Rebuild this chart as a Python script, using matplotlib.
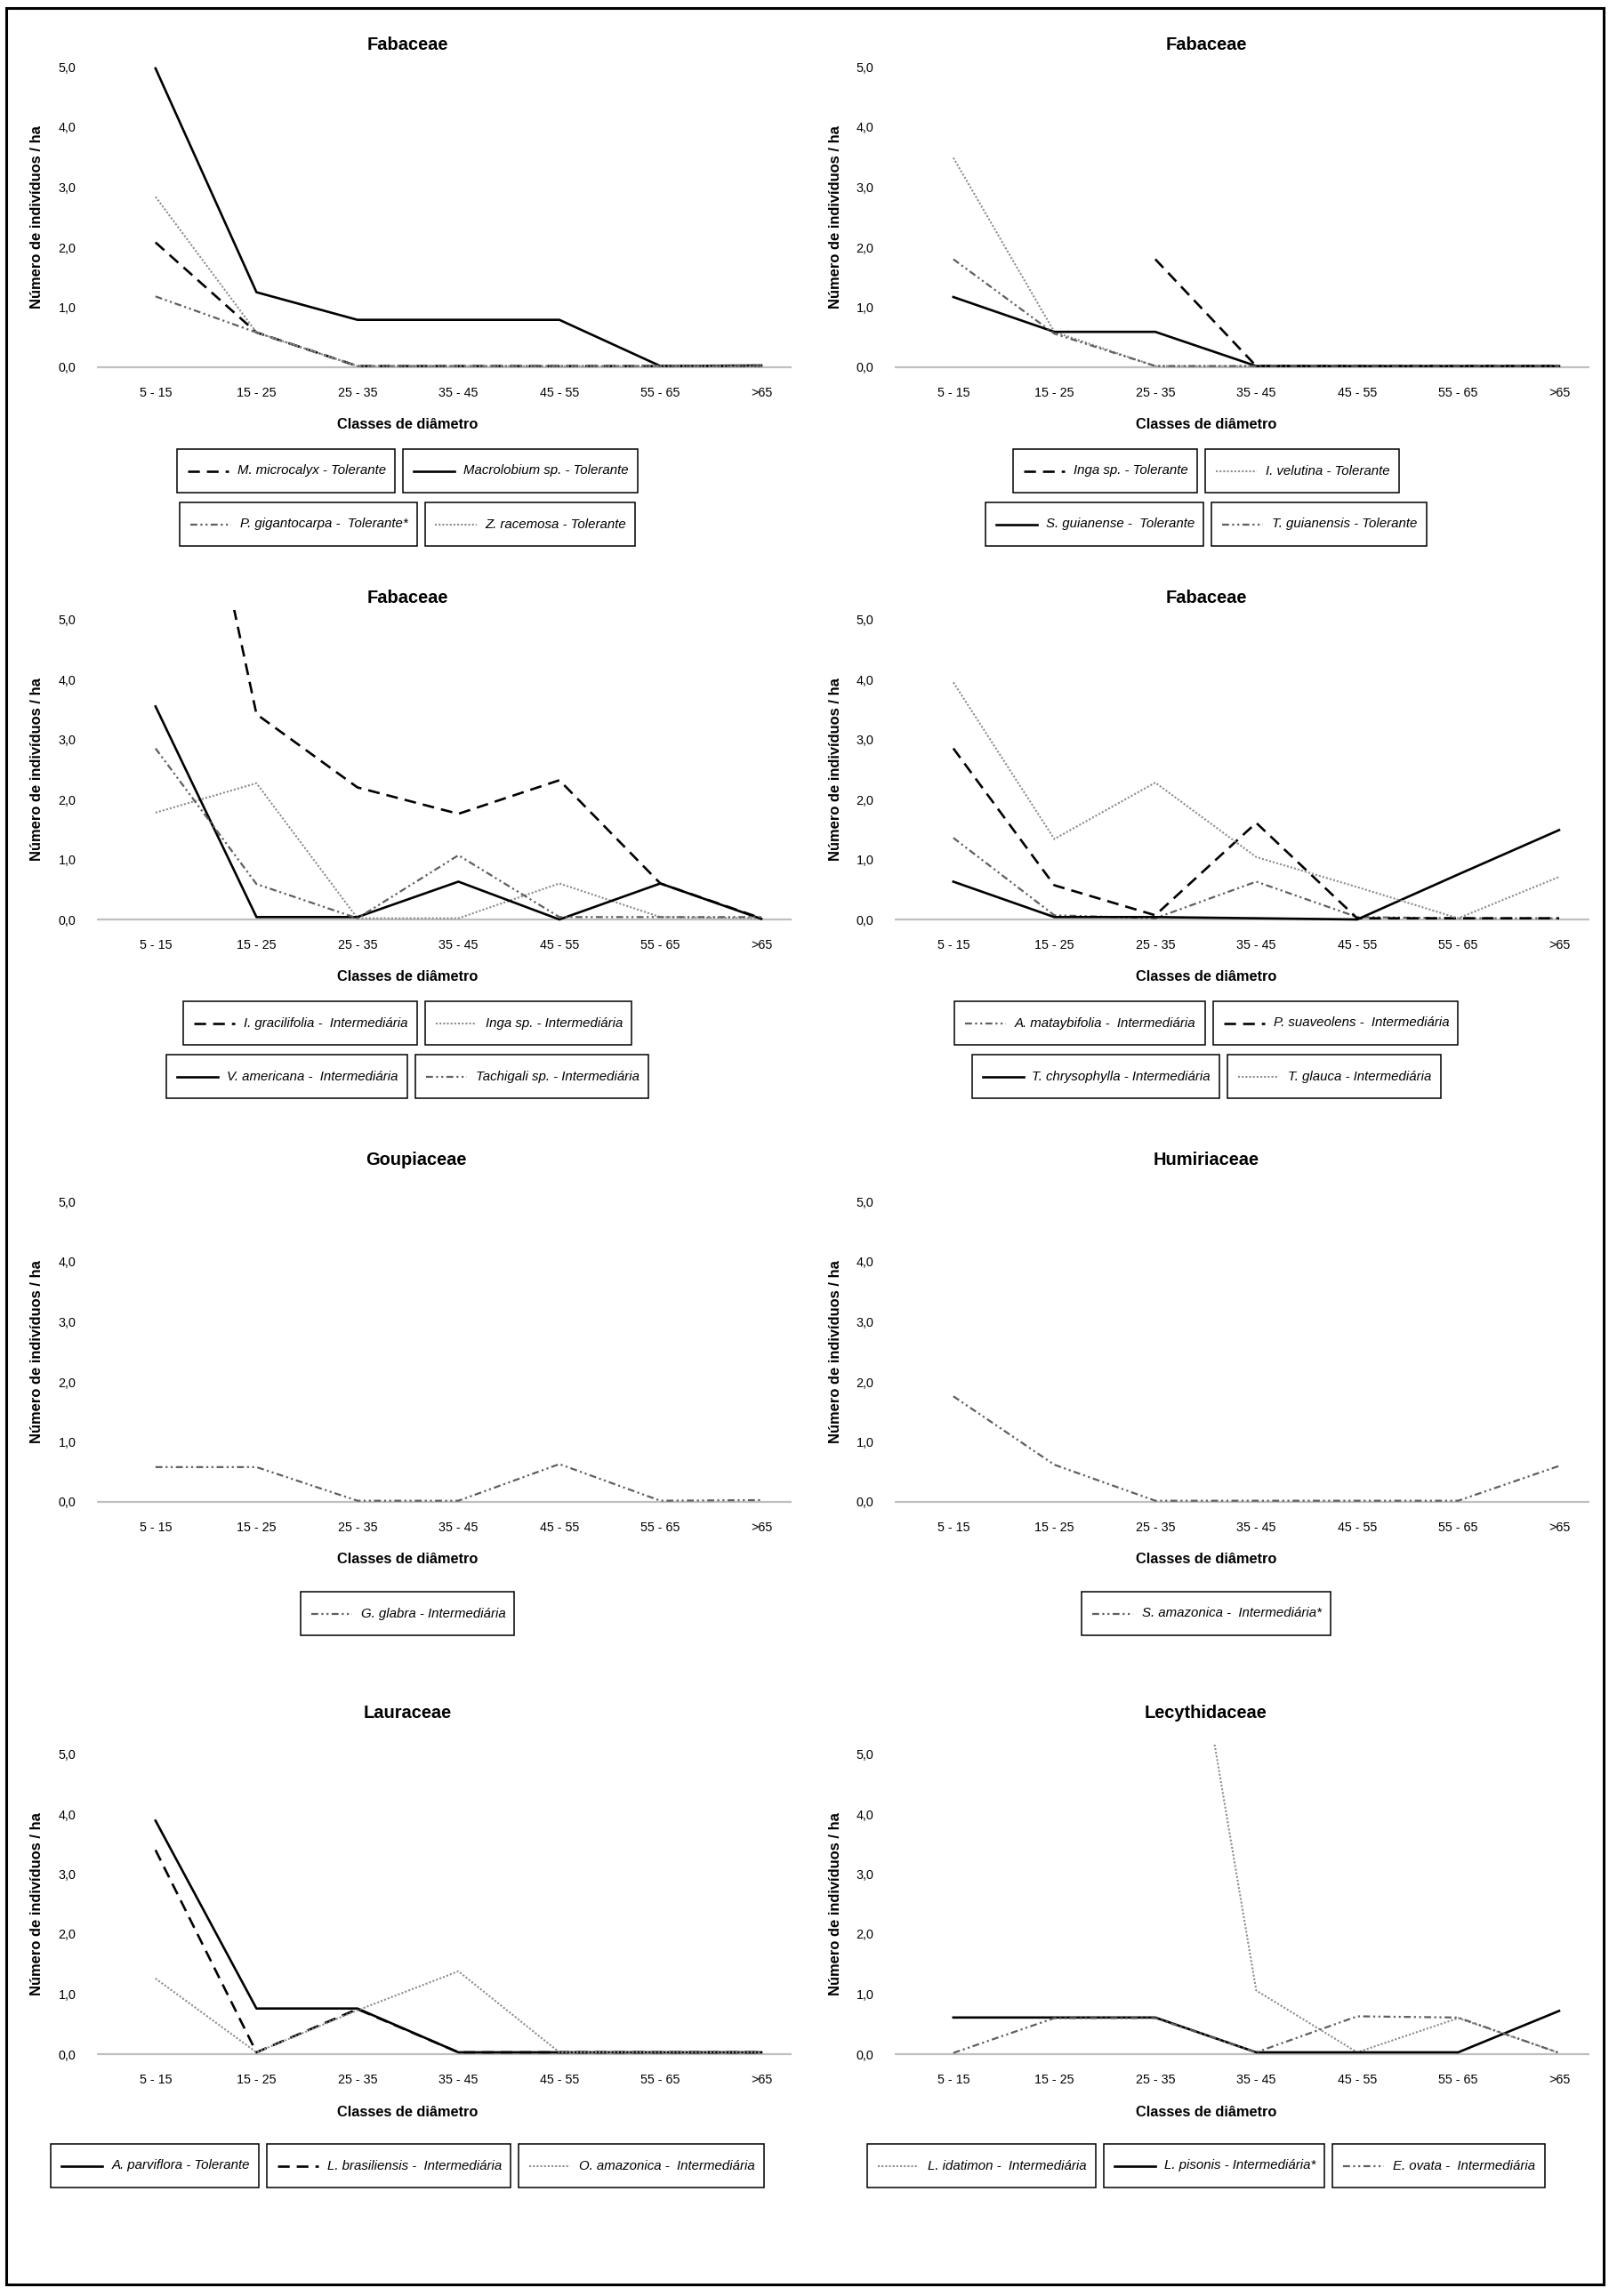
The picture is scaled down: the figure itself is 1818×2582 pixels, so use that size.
import numpy as np
import matplotlib
matplotlib.use("Agg")
import matplotlib.pyplot as plt
from matplotlib.patches import Rectangle
from matplotlib.lines import Line2D

plt.rcParams['font.family'] = ['Liberation Sans', 'DejaVu Sans']

nan = np.nan
CLASSES = ["5 - 15", "15 - 25", "25 - 35", "35 - 45", "45 - 55", "55 - 65", ">65"]
YTICKS = [0, 1, 2, 3, 4, 5]

# Fabaceae (tolerantes I)
m_microcalyx = [2.08, 0.58, 0.02, 0.02, 0.02, 0.02, 0.02]
macrolobium_sp = [4.98, 1.25, 0.79, 0.79, 0.79, 0.02, 0.03]
p_gigantocarpa = [1.18, 0.58, 0.02, 0.02, 0.02, 0.02, 0.02]
z_racemosa = [2.84, 0.58, 0.02, 0.02, 0.02, 0.02, 0.02]
# Fabaceae (tolerantes II)
inga_sp_tol = [nan, nan, 1.80, 0.02, 0.02, 0.02, 0.02]
i_velutina = [3.49, 0.59, 0.02, 0.02, 0.02, 0.02, 0.02]
s_guianense = [1.17, 0.59, 0.59, 0.02, 0.02, 0.02, 0.02]
t_guianensis = [1.80, 0.56, 0.02, 0.02, 0.02, 0.02, 0.02]
# Fabaceae (intermediarias I)
i_gracilifolia = [11.3, 3.42, 2.20, 1.76, 2.32, 0.60, 0.02]
inga_sp_int = [1.78, 2.27, 0.02, 0.02, 0.60, 0.04, 0.02]
v_americana = [3.55, 0.04, 0.04, 0.63, 0.00, 0.60, 0.01]
tachigali_sp = [2.85, 0.59, 0.02, 1.07, 0.04, 0.04, 0.04]
# Fabaceae (intermediarias II)
a_mataybifolia = [1.36, 0.07, 0.02, 0.63, 0.04, 0.02, 0.02]
p_suaveolens = [2.85, 0.57, 0.07, 1.61, 0.02, 0.02, 0.02]
t_chrysophylla = [0.63, 0.04, 0.04, 0.02, 0.00, 0.75, 1.49]
t_glauca = [3.95, 1.34, 2.28, 1.04, 0.54, 0.02, 0.71]
# Goupiaceae / Humiriaceae
g_glabra = [0.58, 0.58, 0.02, 0.02, 0.63, 0.02, 0.03]
s_amazonica = [1.76, 0.62, 0.02, 0.02, 0.02, 0.02, 0.60]
# Lauraceae
a_parviflora = [3.89, 0.76, 0.76, 0.03, 0.03, 0.03, 0.03]
l_brasiliensis = [3.40, 0.03, 0.75, 0.03, 0.03, 0.03, 0.03]
o_amazonica = [1.26, 0.03, 0.73, 1.38, 0.03, 0.03, 0.03]
# Lecythidaceae
l_idatimon = [nan, nan, 11.0, 1.06, 0.03, 0.60, 0.02]
l_pisonis = [0.61, 0.61, 0.61, 0.03, 0.03, 0.03, 0.72]
e_ovata = [0.02, 0.60, 0.60, 0.03, 0.63, 0.61, 0.02]

STYLES = {
    "solid": dict(color="black", lw=1.9, ls="-"),
    "dashed": dict(color="black", lw=1.9, ls=(0, (5, 3))),
    "dotted": dict(color="#8c8c8c", lw=1.5, ls=(0, (1, 1))),
    "ddot": dict(color="#5f5f5f", lw=1.6, ls=(0, (3.5, 1.6, 1, 1.6, 1, 1.6))),
}

# (title, title x, series, legend rows as index lists)
PANELS = [
    ("Fabaceae", 458, [("M. microcalyx - Tolerante", m_microcalyx, "dashed"),
                       ("Macrolobium sp. - Tolerante", macrolobium_sp, "solid"),
                       ("P. gigantocarpa -  Tolerante*", p_gigantocarpa, "ddot"),
                       ("Z. racemosa - Tolerante", z_racemosa, "dotted")], [[0, 1], [2, 3]]),
    ("Fabaceae", 1356, [("Inga sp. - Tolerante", inga_sp_tol, "dashed"),
                        ("I. velutina - Tolerante", i_velutina, "dotted"),
                        ("S. guianense -  Tolerante", s_guianense, "solid"),
                        ("T. guianensis - Tolerante", t_guianensis, "ddot")], [[0, 1], [2, 3]]),
    ("Fabaceae", 458, [("I. gracilifolia -  Intermediária", i_gracilifolia, "dashed"),
                       ("Inga sp. - Intermediária", inga_sp_int, "dotted"),
                       ("V. americana -  Intermediária", v_americana, "solid"),
                       ("Tachigali sp. - Intermediária", tachigali_sp, "ddot")], [[0, 1], [2, 3]]),
    ("Fabaceae", 1356, [("A. mataybifolia -  Intermediária", a_mataybifolia, "ddot"),
                        ("P. suaveolens -  Intermediária", p_suaveolens, "dashed"),
                        ("T. chrysophylla - Intermediária", t_chrysophylla, "solid"),
                        ("T. glauca - Intermediária", t_glauca, "dotted")], [[0, 1], [2, 3]]),
    ("Goupiaceae", 468, [("G. glabra - Intermediária", g_glabra, "ddot")], [[0]]),
    ("Humiriaceae", 1356, [("S. amazonica -  Intermediária*", s_amazonica, "ddot")], [[0]]),
    ("Lauraceae", 458, [("A. parviflora - Tolerante", a_parviflora, "solid"),
                        ("L. brasiliensis -  Intermediária", l_brasiliensis, "dashed"),
                        ("O. amazonica -  Intermediária", o_amazonica, "dotted")], [[0, 1, 2]]),
    ("Lecythidaceae", 1356, [("L. idatimon -  Intermediária", l_idatimon, "dotted"),
                             ("L. pisonis - Intermediária*", l_pisonis, "solid"),
                             ("E. ovata -  Intermediária", e_ovata, "ddot")], [[0, 1, 2]]),
]

W, H = 1818, 2582
COLS = [dict(x0=109, x1=890, cx=458, ylab=42), dict(x0=1006, x1=1787, cx=1356, ylab=939)]
ROWS = [dict(zero=413, title=51), dict(zero=1034, title=672),
        dict(zero=1689, title=1305), dict(zero=2310, title=1926)]
UNIT = 67.5
YMIN, YMAX = -0.05, 5.15


def fx(px):
    return px / W


def fy(py):
    return 1 - py / H


fig = plt.figure(figsize=(W / 100, H / 100), dpi=100)
renderer = fig.canvas.get_renderer()


def legend_row(entries, top, cx, h=49):
    texts, widths = [], []
    for label, style in entries:
        t = fig.text(0, 0, label, fontsize=10.8, style="italic", va="center", ha="left")
        texts.append(t)
        widths.append(12 + 46 + 10 + t.get_window_extent(renderer).width + 10)
    gap = 9
    x = cx - (sum(widths) + gap * (len(widths) - 1)) / 2
    yc = top + h / 2
    for (label, style), t, bw in zip(entries, texts, widths):
        fig.add_artist(Rectangle((fx(x), fy(top + h)), bw / W, h / H, transform=fig.transFigure,
                                 fill=False, edgecolor="black", lw=1.1))
        st = STYLES[style]
        fig.add_artist(Line2D([fx(x + 12), fx(x + 58)], [fy(yc), fy(yc)], transform=fig.transFigure,
                              color=st["color"], lw=st["lw"], linestyle=st["ls"]))
        t.set_position((fx(x + 68), fy(yc)))
        x += bw + gap


for i, (title, tx, series, rows) in enumerate(PANELS):
    col, row = COLS[i % 2], ROWS[i // 2]
    bottom_px = row["zero"] - YMIN * UNIT
    top_px = row["zero"] - YMAX * UNIT
    ax = fig.add_axes([fx(col["x0"]), fy(bottom_px), (col["x1"] - col["x0"]) / W, (bottom_px - top_px) / H])
    ax.axhline(0, color="#bfbfbf", lw=1.6, zorder=1)
    x = np.arange(len(CLASSES))
    for label, vals, style in series:
        st = STYLES[style]
        ax.plot(x, vals, color=st["color"], lw=st["lw"], linestyle=st["ls"], zorder=2)
    ax.set_xlim(-0.58, 6.30)
    ax.set_ylim(YMIN, YMAX)
    ax.set_yticks(YTICKS)
    ax.set_yticklabels([f"{v:.1f}".replace(".", ",") for v in YTICKS], fontsize=10.3)
    ax.set_xticks(x)
    ax.set_xticklabels(CLASSES, fontsize=10.3)
    ax.tick_params(axis="y", length=0, pad=17)
    ax.tick_params(axis="x", length=0, pad=13.5)
    for s in ax.spines.values():
        s.set_visible(False)
    ax.patch.set_alpha(0)

    fig.text(fx(tx), fy(row["title"]), title, fontsize=14.4, fontweight="bold", ha="center", va="center")
    fig.text(fx(col["cx"]), fy(row["zero"] + 65), "Classes de diâmetro", fontsize=11.8,
             fontweight="bold", ha="center", va="center")
    fig.text(fx(col["ylab"]), fy(row["zero"] - 2.5 * UNIT), "Número de indivíduos / ha", fontsize=11.9,
             fontweight="bold", ha="center", va="center", rotation=90)

    if len(rows) == 1:
        tops = [row["zero"] + 101]
    else:
        tops = [row["zero"] + 92, row["zero"] + 152]
    for idx, top in zip(rows, tops):
        legend_row([(series[k][0], series[k][2]) for k in idx], top, col["cx"])

fig.add_artist(Rectangle((fx(7), fy(2569)), (1803 - 7) / W, (2569 - 9) / H, transform=fig.transFigure,
                         fill=False, edgecolor="black", lw=2.2))

fig.savefig("out.png", dpi=100)
